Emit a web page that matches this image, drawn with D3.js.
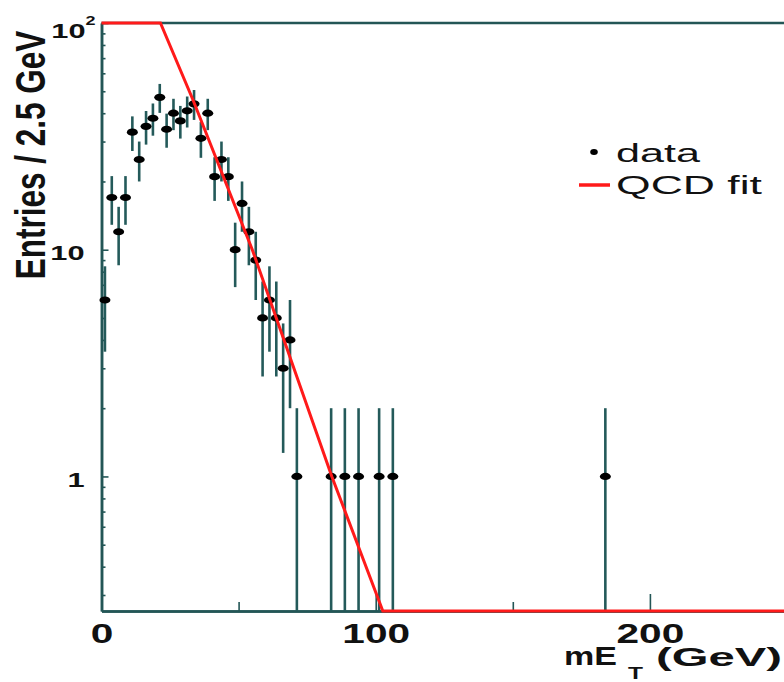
<!DOCTYPE html>
<html>
<head>
<meta charset="utf-8">
<script src="https://cdn.jsdelivr.net/npm/d3@7"></script>
<style>
  body { margin: 0; background: #fff; }
  svg { display: block; font-family: "Liberation Sans", Arial, Helvetica, sans-serif; }
  .axis path, .axis line { stroke: #235656; }
  .axis path { stroke-width: 2.5; }
  .axis line { stroke-width: 1.6; }
  .axis text { fill: #111; font-weight: bold; }
</style>
</head>
<body>
<script>
// filled 2.5 GeV bins: centre (GeV), entries, error
var binCenters = [1.25, 3.75, 6.25, 8.75, 11.25, 13.75, 16.25, 18.75, 21.25, 23.75,
                  26.25, 28.75, 31.25, 33.75, 36.25, 38.75, 41.25, 43.75, 46.25, 48.75,
                  51.25, 53.75, 56.25, 58.75, 61.25, 63.75, 66.25, 68.75, 71.25, 83.75,
                  88.75, 93.75, 101.25, 106.25, 183.75];
var entries = [6, 17, 12, 17, 33, 25, 35, 38, 47, 34,
               40, 37, 41, 44, 31, 40, 21, 25, 21, 10,
               16, 12, 9, 5, 6, 5, 3, 4, 1, 1,
               1, 1, 1, 1, 1];
var errors = [2.45, 4.12, 3.46, 4.12, 5.74, 5, 5.92, 6.16, 6.86, 5.83,
              6.32, 6.08, 6.4, 6.63, 5.57, 6.32, 4.58, 5, 4.58, 3.16,
              4, 3.46, 3, 2.24, 2.45, 2.24, 1.73, 2, 1, 1,
              1, 1, 1, 1, 1];

// QCD fit curve as seen in the frame
var fitX = [0, 21.5, 33.3, 55, 84, 102.6, 250];
var fitY = [100, 100, 46, 10, 1, 0.25, 0.25];

var xMajorTicks = [0, 100, 200];
var xMinorTicks = [50, 150, 250];
var yMajorTicks = [1, 10, 100];
var yTickLabels = ['1', '10', '10'];
var yMinorTicks = [0.3, 0.4, 0.5, 0.6, 0.7, 0.8, 0.9, 2, 3, 4, 5, 6, 7, 8, 9,
                   20, 30, 40, 50, 60, 70, 80, 90];

var legendLabels = ['data', 'QCD fit'];

var svgWidth = 784, svgHeight = 682;

var svg = d3.select('body').append('svg')
  .attr('width', svgWidth)
  .attr('height', svgHeight);

var x = d3.scaleLinear().domain([0, 250]).range([101.5, 787]);
var y = d3.scaleLog().domain([0.255, 100]).range([611, 23]).clamp(true);

function stretchText (str, x0, baseline, size, width, weight) {
  var t = svg.append('text')
    .attr('font-size', size)
    .attr('font-weight', weight)
    .attr('fill', '#111')
    .text(str);
  var w = t.node().getComputedTextLength();
  t.attr('transform', 'translate(' + x0 + ',' + baseline + ') scale(' + (width / w) + ',1)');
  return t;
}

// top frame line
svg.append('line')
  .attr('x1', x(0)).attr('x2', x(250))
  .attr('y1', y(100)).attr('y2', y(100))
  .attr('stroke', '#235656')
  .attr('stroke-width', 2.5);

// x axis
svg.append('g')
  .attr('class', 'axis')
  .attr('transform', 'translate(0,' + y.range()[0] + ')')
  .call(d3.axisBottom(x).tickValues(xMinorTicks).tickSizeInner(-9).tickSizeOuter(0).tickFormat(''));

var xAx = svg.append('g')
  .attr('class', 'axis')
  .attr('transform', 'translate(0,' + y.range()[0] + ')')
  .call(d3.axisBottom(x).tickValues(xMajorTicks).tickSizeInner(-17).tickSizeOuter(0).tickPadding(12));
xAx.selectAll('text')
  .attr('font-size', 28)
  .attr('transform', 'scale(1.45,1)');

// y axis
svg.append('g')
  .attr('class', 'axis')
  .attr('transform', 'translate(' + x(0) + ',0)')
  .call(d3.axisLeft(y).tickValues(yMinorTicks).tickSizeInner(-4).tickSizeOuter(0).tickFormat(''));

var yAx = svg.append('g')
  .attr('class', 'axis')
  .attr('transform', 'translate(' + x(0) + ',0)')
  .call(d3.axisLeft(y).tickValues(yMajorTicks).tickSizeInner(-7).tickSizeOuter(0)
    .tickFormat(function (d, i) { return yTickLabels[i]; }));
yAx.selectAll('text')
  .attr('x', null)
  .attr('dy', null)
  .attr('font-size', 20.5)
  .attr('transform', function (d) {
    return d === 100 ? 'translate(-6,14) scale(1.5,1)' : 'translate(-17,10) scale(1.5,1)';
  });
yAx.selectAll('text').filter(function (d) { return d === 100; })
  .append('tspan')
  .attr('font-size', 12)
  .attr('dy', -13)
  .text('2');

// error bars
var pts = binCenters.map(function (c, i) { return { x: c, n: entries[i], e: errors[i] }; });

svg.append('g').selectAll('line')
  .data(pts)
  .enter().append('line')
  .attr('x1', function (d) { return x(d.x); })
  .attr('x2', function (d) { return x(d.x); })
  .attr('y1', function (d) { return y(Math.max(d.n - d.e, 0.01)); })
  .attr('y2', function (d) { return y(d.n + d.e); })
  .attr('stroke', '#245a5a')
  .attr('stroke-width', 2.6);

svg.append('g').selectAll('ellipse')
  .data(pts)
  .enter().append('ellipse')
  .attr('cx', function (d) { return x(d.x); })
  .attr('cy', function (d) { return y(d.n); })
  .attr('rx', 5.5)
  .attr('ry', 3.6)
  .attr('fill', '#000');

// fit
var fitLine = d3.line()
  .x(function (d) { return x(d[0]); })
  .y(function (d) { return y(d[1]); });

svg.append('path')
  .datum(fitX.map(function (v, i) { return [v, fitY[i]]; }))
  .attr('d', fitLine)
  .attr('fill', 'none')
  .attr('stroke', '#ff1a1a')
  .attr('stroke-width', 3);

// legend
svg.append('ellipse')
  .attr('cx', 594).attr('cy', 152)
  .attr('rx', 3.8).attr('ry', 3)
  .attr('fill', '#000');
stretchText(legendLabels[0], 616, 162, 26, 84, 'normal');
svg.append('line')
  .attr('x1', 579).attr('x2', 610)
  .attr('y1', 185).attr('y2', 185)
  .attr('stroke', '#ff1a1a')
  .attr('stroke-width', 3.5);
stretchText(legendLabels[1], 616, 194, 26, 146, 'normal');

// axis titles
svg.append('text')
  .attr('transform', 'translate(45,155) scale(1.33,1) rotate(-90)')
  .attr('text-anchor', 'middle')
  .attr('font-size', 31.5)
  .attr('font-weight', 'bold')
  .attr('fill', '#111')
  .text('Entries / 2.5 GeV');

stretchText('mE', 564, 665, 25, 53, 'bold');
stretchText('T', 628, 679, 16, 15, 'bold');
stretchText('(GeV)', 656, 666, 25, 126, 'bold');
</script>
</body>
</html>
